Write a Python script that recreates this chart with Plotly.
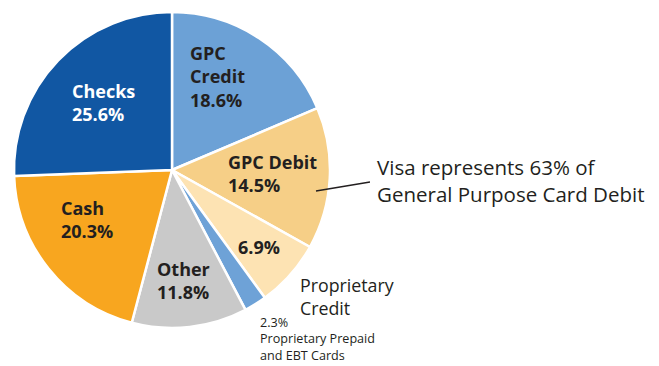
import plotly.graph_objects as go

labels = ["GPC Credit", "GPC Debit", "Proprietary Credit", "Proprietary Prepaid and EBT Cards", "Other", "Cash", "Checks"]
values = [18.6, 14.5, 6.9, 2.3, 11.8, 20.3, 25.6]
colors = ["#6ca1d6", "#f6cf87", "#fde3b3", "#6ea2d7", "#c9c9c9", "#f8a61f", "#1157a3"]

W, H = 659, 366
cx, cy, r = 172, 170, 158

fig = go.Figure(go.Pie(
    labels=labels, values=values, sort=False, direction="clockwise", rotation=0,
    marker=dict(colors=colors, line=dict(color="white", width=2.5)),
    textinfo="none", hoverinfo="label+percent", showlegend=False,
    domain=dict(x=[(cx - r) / W, (cx + r) / W], y=[1 - (cy + r) / H, 1 - (cy - r) / H]),
))

# inside labels: (text, left x px, first-line center y px, color)
inside = [
    ("GPC<br>Credit<br>%.1f%%" % values[0], 188, 52, "#231f20"),
    ("GPC Debit<br>%.1f%%" % values[1], 226, 161, "#231f20"),
    ("%.1f%%" % values[2], 236, 246, "#231f20"),
    ("Other<br>%.1f%%" % values[4], 155, 268, "#231f20"),
    ("Cash<br>%.1f%%" % values[5], 59, 207, "#231f20"),
    ("Checks<br>%.1f%%" % values[6], 70, 90, "white"),
]
ann = []
for t, x, y, c in inside:
    ann.append(dict(text="<b>%s</b>" % t, x=x / W, y=1 - (y - 13) / H, xref="paper", yref="paper",
                    xanchor="left", yanchor="top", align="left", showarrow=False,
                    font=dict(family="Open Sans", size=18, color=c)))

ann.append(dict(text="Visa represents 63% of<br>General Purpose Card Debit", x=375 / W, y=1 - 151 / H,
                xref="paper", yref="paper", xanchor="left", yanchor="top", align="left", showarrow=False,
                font=dict(family="Open Sans", size=20.5, color="#231f20")))
ann.append(dict(text="Proprietary<br>Credit", x=298 / W, y=1 - 271 / H,
                xref="paper", yref="paper", xanchor="left", yanchor="top", align="left", showarrow=False,
                font=dict(family="Open Sans", size=17.8, color="#231f20")))
ann.append(dict(text="%.1f%%<br>Proprietary Prepaid<br>and EBT Cards" % values[3], x=258 / W, y=1 - 312 / H,
                xref="paper", yref="paper", xanchor="left", yanchor="top", align="left", showarrow=False,
                font=dict(family="Open Sans", size=12.6, color="#231f20")))

fig.update_layout(
    width=W, height=H, margin=dict(l=0, r=0, t=0, b=0),
    paper_bgcolor="white", plot_bgcolor="white",
    annotations=ann,
    shapes=[dict(type="line", xref="paper", yref="paper", x0=316 / W, y0=1 - 191 / H, x1=370 / W, y1=1 - 182 / H,
                 line=dict(color="#231f20", width=1.3))],
)
fig.write_html("out.html")
